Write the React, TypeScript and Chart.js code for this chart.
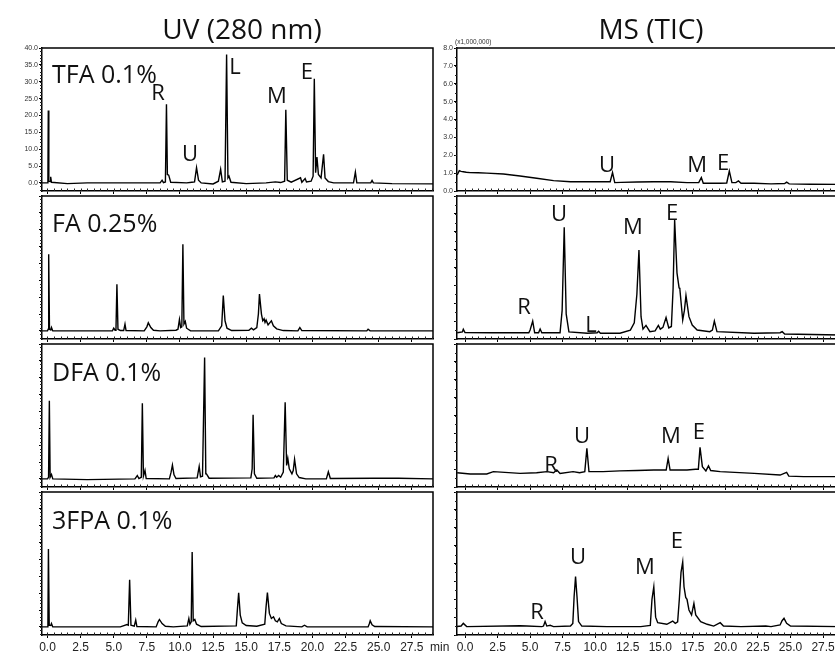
import React, { useEffect, useRef } from "react";
import { Chart, registerables } from "chart.js";
Chart.register(...registerables);

type Pt = [number, number];
type Tag = { label: string; t: number; v: number };

// ---------- axis ranges & ticks ----------
const UV_X_MIN = -0.415;
const UV_X_MAX = 29.1;
const MS_X_MIN = -0.615;
const MS_X_MAX = 28.8;
const UV_Y_MIN = -2.4;
const UV_Y_MAX = 40;
const MS_Y_MIN = 0;
const MS_Y_MAX = 8;
const X_TICKS = [0, 2.5, 5, 7.5, 10, 12.5, 15, 17.5, 20, 22.5, 25, 27.5];
const UV_Y_TICKS = [0, 5, 10, 15, 20, 25, 30, 35, 40];
const MS_Y_TICKS = [0, 1, 2, 3, 4, 5, 6, 7, 8];

const TITLES = ["UV (280 nm)", "MS (TIC)"];
const CONDITIONS = ["TFA 0.1%", "FA 0.25%", "DFA 0.1%", "3FPA 0.1%"];

// ---------- UV traces [min, signal] ----------
const UV_TFA: Pt[] = [
  [-0.41, 0], [0.0, 0], [0.03, 0.3], [0.06, 21.5], [0.1, 0.5], [0.2, 0.4], [0.24, 1.8], [0.3, 0.2],
  [1.5, -0.2], [3.0, 0], [6.0, 0], [8.5, 0], [8.65, 0.8], [8.75, 0.1], [8.9, 0.3], [8.98, 23.3],
  [9.05, 2.5], [9.15, 2.3], [9.3, 0.2], [10.5, 0], [10.9, 0.2], [11.1, 0.3], [11.25, 4.5], [11.4, 0.8],
  [11.6, 0], [12.5, -0.3], [12.9, 0.5], [13.07, 4.0], [13.2, 0.3], [13.4, 0.5], [13.52, 38.1],
  [13.62, 1.5], [13.7, 2.0], [13.85, 0.2], [15, -0.2], [16.5, 0], [17.2, 0.3], [17.6, 0.1], [17.9, 0.5],
  [17.99, 21.7], [18.1, 0.8], [18.4, 0.2], [19.1, 1.5], [19.2, 0.2], [19.45, 1.3], [19.55, 0.3],
  [19.9, 0.5], [20.05, 2], [20.14, 30.9], [20.24, 3], [20.34, 7.7], [20.45, 2.5], [20.65, 1.5],
  [20.84, 8.5], [20.95, 1.5], [21.2, 0.4], [21.6, 0], [23.1, 0], [23.24, 3.2], [23.35, 0], [24.4, 0],
  [24.5, 0.7], [24.6, 0], [26, -0.2], [29.2, -0.3],
];
const UV_FA: Pt[] = [
  [-0.41, 0], [0.0, 0], [0.05, 0.5], [0.09, 22.7], [0.15, 0.5], [0.25, 0.3], [0.3, 1], [0.4, 0],
  [2, 0], [4.9, 0], [5.0, 0.8], [5.1, 0.2], [5.17, 0.5], [5.24, 13.8], [5.32, 0.5], [5.5, 0.1],
  [5.75, 0.1], [5.85, 2.0], [5.93, 0.1], [7.3, 0], [7.5, 1.2], [7.61, 2.4], [7.8, 1.0], [8.0, 0.2],
  [8.5, 0], [9.7, 0.2], [9.85, 0.5], [9.96, 3.4], [10.05, 1.0], [10.14, 1.2], [10.22, 25.7], [10.3, 2.0],
  [10.4, 2.8], [10.5, 0.8], [10.8, 0], [12.9, 0], [13.15, 1.5], [13.27, 10.5], [13.4, 3], [13.55, 0.8],
  [13.9, 0.1], [15.2, 0.2], [15.39, 0.8], [15.55, 0.3], [15.8, 1.0], [15.92, 5], [16.0, 10.9],
  [16.15, 5], [16.25, 3], [16.35, 3.6], [16.42, 2.5], [16.5, 3.2], [16.65, 1.8], [16.9, 3.0],
  [17.05, 1.5], [17.3, 0.6], [17.8, 0.1], [18.9, 0], [19.05, 1.0], [19.2, 0.1], [24.1, 0], [24.2, 0.5],
  [24.35, 0], [29.2, 0],
];
const UV_DFA: Pt[] = [
  [-0.41, 0], [0.0, 0], [0.08, 0.5], [0.14, 23.2], [0.2, 0.5], [0.3, 1.3], [0.4, 0], [3, -0.2],
  [6.6, 0], [6.78, 1.0], [6.9, 0.1], [7.08, 0.5], [7.16, 22.4], [7.24, 0.8], [7.36, 2.5], [7.45, 0.1],
  [9.2, 0], [9.33, 2], [9.43, 4.1], [9.55, 1.2], [9.7, 0.1], [11.3, 0.3], [11.45, 3.7], [11.55, 0.6],
  [11.7, 0.8], [11.86, 36.0], [11.95, 1.5], [12.0, 1.5], [12.2, 0.2], [15.35, 0.3], [15.45, 3],
  [15.52, 19.0], [15.62, 1.5], [15.8, 0.2], [17.1, 0.3], [17.2, 1.0], [17.3, 0.5], [17.45, 1.0],
  [17.6, 0.5], [17.8, 2], [17.94, 22.7], [18.05, 4], [18.14, 6.1], [18.25, 3], [18.45, 1.5],
  [18.55, 2.5], [18.65, 5.8], [18.8, 1.5], [19.0, 0.4], [19.5, 0], [21.05, 0], [21.2, 2.1],
  [21.35, 0.1], [24.6, 0.2], [26.5, 0.2], [29.2, 0],
];
const UV_3FPA: Pt[] = [
  [-0.41, 0], [0, 0], [0.03, 0.5], [0.07, 23.1], [0.13, 0.5], [0.25, 0.4], [0.3, 1.0], [0.4, 0],
  [4.3, 0], [5.5, 0], [6.0, 0.7], [6.1, 0.5], [6.2, 14.0], [6.3, 0.5], [6.55, 0.2], [6.66, 2.0],
  [6.75, 0.1], [8.2, 0], [8.35, 1.5], [8.45, 2.2], [8.65, 1.0], [8.9, 0.2], [9.5, 0], [10.55, 0.3],
  [10.67, 2.5], [10.75, 0.8], [10.85, 1.5], [10.92, 22.2], [11.0, 1.8], [11.12, 2.2], [11.25, 0.8],
  [11.6, 0.1], [14.25, 0.3], [14.35, 6], [14.43, 10.1], [14.55, 3.5], [14.7, 1.2], [15, 0.4],
  [15.8, 0.2], [16.4, 0.8], [16.5, 6], [16.6, 10.2], [16.75, 4], [16.9, 2.5], [17.06, 3.0], [17.2, 1.8],
  [17.35, 1.5], [17.5, 2.5], [17.65, 1.0], [18.0, 0.3], [19.2, 0], [19.4, 0.5], [19.6, 0], [24.2, 0],
  [24.3, 1.0], [24.36, 1.8], [24.5, 0.6], [24.7, 0.1], [29.2, 0],
];

// ---------- MS traces [min, x1,000,000] ----------
const MS_TFA: Pt[] = [
  [-0.6, 0.9], [-0.44, 1.14], [-0.3, 1.1], [-0.13, 1.08], [0.1, 1.05], [0.38, 1.03], [1.0, 1.02],
  [1.67, 1.0], [2.95, 0.95], [4.23, 0.84], [5.5, 0.71], [6.8, 0.58], [8.1, 0.52], [9.4, 0.52],
  [10.6, 0.52], [11.15, 0.52], [11.33, 1.03], [11.5, 0.47], [12.0, 0.48], [13.2, 0.5], [14.5, 0.52],
  [15.8, 0.52], [17.05, 0.47], [17.95, 0.47], [18.15, 0.75], [18.3, 0.43], [19.6, 0.43], [20.1, 0.45],
  [20.3, 1.12], [20.5, 0.47], [20.8, 0.47], [21.0, 0.56], [21.2, 0.43], [22.2, 0.43], [23.5, 0.4],
  [24.55, 0.42], [24.7, 0.5], [24.9, 0.4], [26.5, 0.38], [28.8, 0.37],
];
const MS_FA: Pt[] = [
  [-0.6, 0.35], [-0.2, 0.4], [-0.13, 0.54], [0.0, 0.36], [2, 0.35], [4.2, 0.35], [4.9, 0.35],
  [5.0, 0.5], [5.2, 1.0], [5.35, 0.35], [5.65, 0.35], [5.77, 0.56], [5.9, 0.35], [7.3, 0.35],
  [7.46, 1.6], [7.62, 6.25], [7.77, 1.4], [7.98, 0.4], [9.4, 0.32], [10.15, 0.35], [10.26, 0.43],
  [10.4, 0.32], [11.9, 0.32], [12.7, 0.5], [13.0, 0.9], [13.2, 2.5], [13.36, 4.98], [13.52, 1.25],
  [13.67, 0.55], [13.9, 0.76], [14.2, 0.41], [14.6, 0.45], [14.85, 0.76], [15.0, 0.55], [15.2, 0.65],
  [15.44, 1.2], [15.65, 0.62], [15.85, 0.7], [15.98, 2.8], [16.1, 6.66], [16.28, 3.7], [16.44, 2.87],
  [16.5, 2.8], [16.72, 1.06], [16.85, 1.6], [16.97, 2.43], [17.2, 1.25], [17.45, 0.78], [17.83, 0.5],
  [18.8, 0.41], [19.0, 0.5], [19.15, 1.0], [19.35, 0.41], [22.2, 0.32], [24.2, 0.35], [24.36, 0.41],
  [24.55, 0.28], [28.8, 0.22],
];
const MS_DFA: Pt[] = [
  [-0.6, 0.8], [0.4, 0.73], [1.67, 0.73], [2.18, 0.86], [4.23, 0.76], [5.5, 0.8], [6.3, 0.86],
  [6.8, 0.8], [7.05, 0.95], [7.3, 0.76], [8.3, 0.86], [8.8, 0.8], [9.2, 0.86], [9.36, 2.16],
  [9.52, 0.86], [10.6, 0.86], [11.9, 0.9], [13.2, 0.92], [14.5, 0.95], [15.45, 0.95], [15.6, 1.6],
  [15.75, 0.95], [17.05, 0.95], [17.7, 0.99], [17.92, 0.99], [18.05, 2.22], [18.23, 1.14], [18.5, 0.9],
  [18.7, 1.18], [18.87, 0.92], [19.6, 0.86], [22.2, 0.76], [24.2, 0.67], [24.7, 0.82], [24.87, 0.61],
  [26.0, 0.58], [28.8, 0.58],
];
const MS_3FPA: Pt[] = [
  [-0.64, 0.47], [-0.3, 0.5], [-0.13, 0.65], [0.13, 0.47], [4.23, 0.52], [4.74, 0.5], [5.9, 0.47],
  [6.03, 0.5], [6.15, 0.75], [6.28, 0.5], [6.54, 0.54], [6.8, 0.47], [8.1, 0.5], [8.28, 0.65],
  [8.38, 2.15], [8.49, 3.27], [8.6, 2.15], [8.72, 0.75], [8.97, 0.5], [10.9, 0.47], [13.5, 0.47],
  [14.23, 0.54], [14.36, 2.0], [14.5, 2.7], [14.64, 1.0], [14.8, 0.69], [15.5, 0.6], [15.95, 0.78],
  [16.15, 0.65], [16.33, 0.73], [16.46, 2.0], [16.59, 3.5], [16.72, 4.08], [16.82, 2.7], [16.95, 2.1],
  [17.05, 2.0], [17.2, 1.4], [17.4, 1.12], [17.58, 1.77], [17.72, 1.12], [18.1, 0.75], [18.6, 0.6],
  [19.1, 0.5], [19.6, 0.69], [19.85, 0.5], [21.2, 0.47], [23.1, 0.5], [23.5, 0.47], [24.2, 0.56],
  [24.35, 0.8], [24.5, 0.93], [24.7, 0.65], [25.0, 0.5], [28.8, 0.47],
];

// ---------- peak tags (time, signal) ----------
const UV_TAGS_TFA: Tag[] = [
  { label: "R", t: 8.34, v: 26.9 }, { label: "U", t: 10.75, v: 8.8 }, { label: "L", t: 14.15, v: 34.7 },
  { label: "M", t: 17.32, v: 26.0 }, { label: "E", t: 19.58, v: 33.2 },
];
const MS_TAGS_TFA: Tag[] = [
  { label: "U", t: 10.91, v: 1.51 }, { label: "M", t: 17.82, v: 1.51 }, { label: "E", t: 19.82, v: 1.62 },
];
const MS_TAGS_FA: Tag[] = [
  { label: "R", t: 4.53, v: 1.85 }, { label: "U", t: 7.22, v: 7.05 }, { label: "L", t: 9.68, v: 0.84 },
  { label: "M", t: 12.9, v: 6.32 }, { label: "E", t: 15.9, v: 7.1 },
];
const MS_TAGS_DFA: Tag[] = [
  { label: "R", t: 6.6, v: 1.29 }, { label: "U", t: 8.99, v: 2.91 },
  { label: "M", t: 15.82, v: 2.91 }, { label: "E", t: 17.97, v: 3.13 },
];
const MS_TAGS_3FPA: Tag[] = [
  { label: "R", t: 5.53, v: 1.34 }, { label: "U", t: 8.68, v: 4.42 },
  { label: "M", t: 13.82, v: 3.86 }, { label: "E", t: 16.28, v: 5.31 },
];

const UV_TRACES = [UV_TFA, UV_FA, UV_DFA, UV_3FPA];
const MS_TRACES = [MS_TFA, MS_FA, MS_DFA, MS_3FPA];
const UV_TAGS = [UV_TAGS_TFA, [], [], []] as Tag[][];
const MS_TAGS = [MS_TAGS_TFA, MS_TAGS_FA, MS_TAGS_DFA, MS_TAGS_3FPA];

// ---------- layout ----------
const ROW_TOPS = [48, 196, 344, 492];
const PANEL_H = 143;
const TICK_FONT = '"Liberation Sans", Arial, sans-serif';
const TEXT_FONT = '"Open Sans", sans-serif';

function Panel(props: { kind: "uv" | "ms"; row: number; trace: Pt[]; tags: Tag[] }) {
  const ref = useRef<HTMLCanvasElement | null>(null);
  const isUV = props.kind === "uv";
  const padTop = 8;
  const axisH = 24;
  const yAxisW = isUV ? 42 : 37;
  const canvasLeft = isUV ? 0 : 420;
  const canvasW = isUV ? 440 : 420;
  const padRight = isUV ? 7 : 0;
  const canvasTop = ROW_TOPS[props.row] - padTop;
  const canvasH = padTop + PANEL_H + axisH;
  const showX = props.row === 3;
  const showY = props.row === 0;

  useEffect(() => {
    const minorY = isUV ? 1 : 0.5;
    const frame = {
      id: "frame",
      afterDraw(chart: any) {
        const { ctx, chartArea } = chart;
        const { left, right, top, bottom } = chartArea;
        const xs = chart.scales.x;
        const ys = chart.scales.y;
        ctx.save();
        ctx.strokeStyle = "#000";
        ctx.lineWidth = 1.5;
        ctx.beginPath();
        ctx.moveTo(left, top);
        ctx.lineTo(right, top);
        ctx.lineTo(right, bottom);
        ctx.stroke();
        ctx.lineWidth = 1;
        ctx.strokeStyle = "#222";
        ctx.beginPath();
        for (let v = 0; v <= xs.max; v += 0.5) {
          const px = Math.round(xs.getPixelForValue(v)) + 0.5;
          ctx.moveTo(px, bottom);
          ctx.lineTo(px, bottom - 2.5);
        }
        for (let v = Math.ceil(ys.min); v <= ys.max + 1e-6; v += minorY) {
          const py = Math.round(ys.getPixelForValue(v)) + 0.5;
          ctx.moveTo(left, py);
          ctx.lineTo(left - 2, py);
        }
        ctx.stroke();
        ctx.fillStyle = "#111";
        ctx.font = `22px ${TEXT_FONT}`;
        ctx.textAlign = "center";
        ctx.textBaseline = "alphabetic";
        for (const tag of props.tags) {
          ctx.fillText(tag.label, xs.getPixelForValue(tag.t), ys.getPixelForValue(tag.v) + 7.9);
        }
        ctx.restore();
      },
    };
    const chart = new Chart(ref.current as HTMLCanvasElement, {
      type: "line",
      data: {
        datasets: [
          {
            data: props.trace.map(([x, y]) => ({ x, y })),
            borderColor: "#000",
            borderWidth: 1.4,
            pointRadius: 0,
            tension: 0,
            fill: false,
          },
        ],
      },
      options: {
        responsive: false,
        animation: false,
        devicePixelRatio: 1,
        events: [],
        layout: { autoPadding: false, padding: { top: padTop, right: padRight, left: 0, bottom: 0 } },
        plugins: { legend: { display: false }, tooltip: { enabled: false } },
        scales: {
          x: {
            type: "linear",
            position: "bottom",
            min: isUV ? UV_X_MIN : MS_X_MIN,
            max: isUV ? UV_X_MAX : MS_X_MAX,
            afterBuildTicks: (s: any) => {
              s.ticks = X_TICKS.map((v) => ({ value: v }));
            },
            afterFit: (s: any) => {
              s.height = axisH;
            },
            grid: { display: true, drawOnChartArea: false, drawTicks: true, tickLength: 3, color: "#000", lineWidth: 1 },
            border: { display: true, color: "#000", width: 1.5 },
            ticks: {
              display: showX,
              autoSkip: false,
              maxRotation: 0,
              padding: 2,
              color: "#222",
              font: { size: 12, family: TICK_FONT },
              callback: (v: any) => Number(v).toFixed(1),
            },
          },
          y: {
            type: "linear",
            position: "left",
            min: isUV ? UV_Y_MIN : MS_Y_MIN,
            max: isUV ? UV_Y_MAX : MS_Y_MAX,
            afterBuildTicks: (s: any) => {
              s.ticks = (isUV ? UV_Y_TICKS : MS_Y_TICKS).map((v) => ({ value: v }));
            },
            afterFit: (s: any) => {
              s.width = yAxisW;
            },
            grid: { display: true, drawOnChartArea: false, drawTicks: true, tickLength: 3, color: "#000", lineWidth: 1 },
            border: { display: true, color: "#000", width: 1.5 },
            ticks: {
              display: showY,
              autoSkip: false,
              padding: 1,
              color: "#333",
              font: { size: 7, family: TICK_FONT },
              callback: (v: any) => Number(v).toFixed(1),
            },
          },
        },
      },
      plugins: [frame],
    } as any);
    return () => chart.destroy();
  }, []);

  return (
    <canvas
      ref={ref}
      width={canvasW}
      height={canvasH}
      style={{ position: "absolute", left: canvasLeft, top: canvasTop, width: canvasW, height: canvasH }}
    />
  );
}

export default function App() {
  const labelCenters = [74, 223, 372, 520];
  return (
    <div
      style={{
        position: "absolute",
        left: 0,
        top: 0,
        width: 835,
        height: 656,
        overflow: "hidden",
        background: "#fff",
        color: "#111",
      }}
    >
      {UV_TRACES.map((tr, i) => (
        <Panel key={"uv" + i} kind="uv" row={i} trace={tr} tags={UV_TAGS[i]} />
      ))}
      {MS_TRACES.map((tr, i) => (
        <Panel key={"ms" + i} kind="ms" row={i} trace={tr} tags={MS_TAGS[i]} />
      ))}
      <div style={{ position: "absolute", left: 242, top: 14, transform: "translateX(-50%)", font: `28px ${TEXT_FONT}`, lineHeight: 1, whiteSpace: "nowrap" }}>
        {TITLES[0]}
      </div>
      <div style={{ position: "absolute", left: 651, top: 14, transform: "translateX(-50%)", font: `28px ${TEXT_FONT}`, lineHeight: 1, whiteSpace: "nowrap" }}>
        {TITLES[1]}
      </div>
      {CONDITIONS.map((c, i) => (
        <div key={c} style={{ position: "absolute", left: 52, top: labelCenters[i] - 13.3, font: `25px ${TEXT_FONT}`, lineHeight: 1, whiteSpace: "nowrap" }}>
          {c}
        </div>
      ))}
      <div style={{ position: "absolute", left: 455, top: 39, font: `6.5px ${TICK_FONT}`, lineHeight: 1, color: "#333", whiteSpace: "nowrap" }}>
        (x1,000,000)
      </div>
      <div style={{ position: "absolute", left: 430, top: 641, font: `12px ${TICK_FONT}`, lineHeight: 1, color: "#222", whiteSpace: "nowrap" }}>
        min
      </div>
    </div>
  );
}
